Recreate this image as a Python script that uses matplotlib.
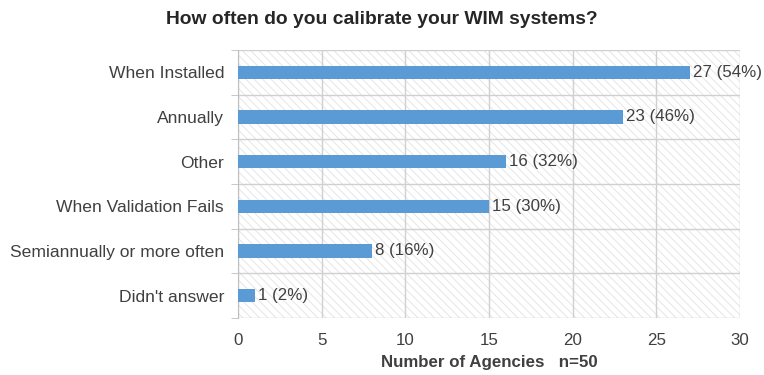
import matplotlib.pyplot as plt
import numpy as np
from matplotlib.ticker import FixedLocator

plt.rcParams['font.family'] = ['Liberation Sans', 'DejaVu Sans']
plt.rcParams['hatch.color'] = '#e2e2e2'
plt.rcParams['hatch.linewidth'] = 0.6

categories = ["When Installed", "Annually", "Other", "When Validation Fails",
              "Semiannually or more often", "Didn't answer"]
counts = [27, 23, 16, 15, 8, 1]
percents = [54, 46, 32, 30, 16, 2]
xticks = [0, 5, 10, 15, 20, 25, 30]

fig = plt.figure(figsize=(7.64, 3.75), dpi=100)
ax = fig.add_axes([0.3115, 0.152, 0.657, 0.715])

# hatched plot-area background
ax.patch.set_facecolor('white')
ax.patch.set_hatch('\\\\\\\\')
ax.patch.set_edgecolor('#e2e2e2')

y = np.arange(len(categories))
ax.barh(y, counts, height=0.3, color='#5b9bd5', zorder=3)

for yi, c, p in zip(y, counts, percents):
    ax.text(c + 0.2, yi, f"{c} ({p}%)", va='center', ha='left',
            fontsize=12.2, color='#404040', zorder=4)

ax.set_xlim(0, 30)
ax.set_ylim(len(categories) - 0.5, -0.5)
ax.set_xticks(xticks)
ax.set_yticks(y)
ax.set_yticklabels(categories)
ax.yaxis.set_minor_locator(FixedLocator(np.arange(-0.5, len(categories), 1)))

ax.grid(axis='x', color='#d0d0d0', linewidth=1, zorder=1)
ax.grid(axis='y', which='minor', color='#d0d0d0', linewidth=1, zorder=1)

ax.tick_params(axis='y', which='major', length=0, labelsize=12.6,
               labelcolor='#404040', pad=10)
ax.tick_params(axis='y', which='minor', length=5, color='#bfbfbf')
ax.tick_params(axis='x', length=0, labelsize=12.2, labelcolor='#404040', pad=11)

for side in ['top', 'right', 'bottom']:
    ax.spines[side].set_visible(False)
ax.spines['left'].set_color('#bfbfbf')

ax.set_xlabel("Number of Agencies   n=50", fontsize=12.2, fontweight='bold',
              color='#404040', labelpad=5)
fig.text(0.5, 1 - 20 / 375, "How often do you calibrate your WIM systems?",
         fontsize=13.9, fontweight='bold', color='#262626',
         ha='center', va='center')

fig.savefig('out.png', dpi=100)
